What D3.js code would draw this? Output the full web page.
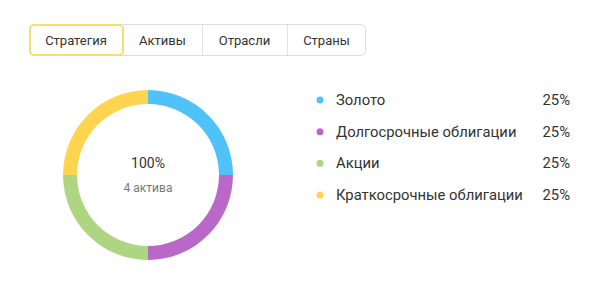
<!DOCTYPE html>
<html>
<head>
<meta charset="utf-8">
<script src="https://cdn.jsdelivr.net/npm/d3@7"></script>
<style>
  body { margin: 0; background: #fff; font-family: Roboto, "Noto Sans", sans-serif; }
</style>
</head>
<body>
<svg id="chart" width="600" height="300"></svg>
<script>
// data
const tabs = ['Стратегия', 'Активы', 'Отрасли', 'Страны'];
const assets = ['Золото', 'Долгосрочные облигации', 'Акции', 'Краткосрочные облигации'];
const shares = [25, 25, 25, 25];
const colors = ['#4fc3f7', '#ba68c8', '#aed581', '#ffd54f'];

const TAB_X = [29, 123, 202, 287, 366];
const CENTER = { x: 148, y: 175 };
const R_OUTER = 85;
const R_INNER = 71;

const svg = d3.select('#chart');

// tab bar
const tabG = svg.append('g');
tabG.append('rect')
  .attr('x', TAB_X[0] + 0.5).attr('y', 24.5)
  .attr('width', TAB_X[4] - TAB_X[0] - 1).attr('height', 31)
  .attr('rx', 5)
  .attr('fill', '#fff').attr('stroke', '#dcdcdc');
tabs.forEach((t, i) => {
  if (i > 1) {
    tabG.append('line')
      .attr('x1', TAB_X[i] + 0.5).attr('x2', TAB_X[i] + 0.5)
      .attr('y1', 25).attr('y2', 55)
      .attr('stroke', '#e2e2e2');
  }
  tabG.append('text')
    .attr('x', (TAB_X[i] + TAB_X[i + 1]) / 2)
    .attr('y', 45)
    .attr('text-anchor', 'middle')
    .attr('font-size', 13)
    .attr('fill', '#333')
    .text(t);
});
// active tab
tabG.append('rect')
  .attr('x', TAB_X[0] + 1).attr('y', 25)
  .attr('width', TAB_X[1] - TAB_X[0] - 1).attr('height', 30)
  .attr('rx', 4)
  .attr('fill', 'none').attr('stroke', '#f3df72').attr('stroke-width', 2);

// donut
const pie = d3.pie().sort(null).value(d => d.value);
const arc = d3.arc().innerRadius(R_INNER).outerRadius(R_OUTER);
const pieData = pie(assets.map((a, i) => ({ name: a, value: shares[i], color: colors[i] })));

const donut = svg.append('g').attr('transform', `translate(${CENTER.x},${CENTER.y})`);
donut.selectAll('path')
  .data(pieData)
  .join('path')
  .attr('d', arc)
  .attr('fill', d => d.data.color);

donut.append('text')
  .attr('y', -7)
  .attr('text-anchor', 'middle')
  .attr('font-size', 14)
  .attr('fill', '#333')
  .text(d3.sum(shares) + '%');
donut.append('text')
  .attr('y', 17)
  .attr('text-anchor', 'middle')
  .attr('font-size', 12)
  .attr('fill', '#777')
  .text(assets.length + ' актива');

// legend
const rowScale = d3.scalePoint().domain(assets).range([100, 195]);
const legend = svg.append('g');
const rows = legend.selectAll('g')
  .data(assets)
  .join('g')
  .attr('transform', d => `translate(0,${rowScale(d)})`);
rows.append('circle')
  .attr('cx', 320).attr('cy', 0).attr('r', 3.5)
  .attr('fill', (d, i) => colors[i]);
rows.append('text')
  .attr('x', 336).attr('y', 5)
  .attr('font-size', 14.8)
  .attr('fill', '#333')
  .text(d => d);
rows.append('text')
  .attr('x', 570).attr('y', 5)
  .attr('text-anchor', 'end')
  .attr('font-size', 14.8)
  .attr('fill', '#333')
  .text((d, i) => shares[i] + '%');
</script>
</body>
</html>
